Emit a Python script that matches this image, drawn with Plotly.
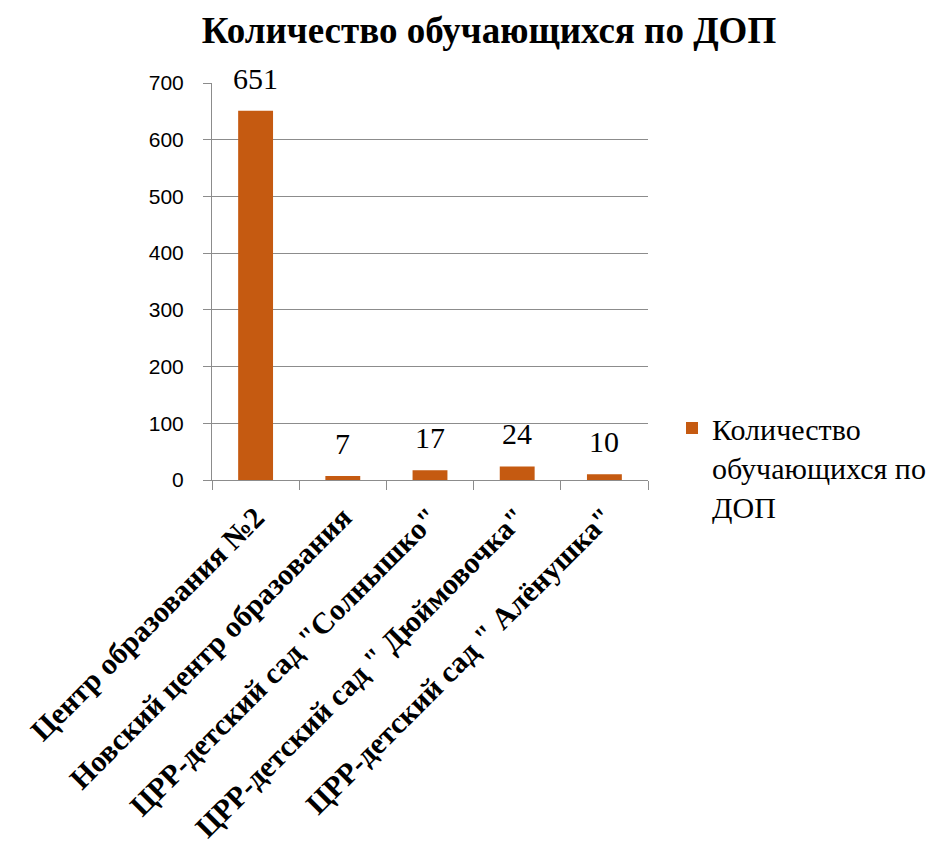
import plotly.graph_objects as go

categories = [
    "Центр образования №2",
    "Новский центр образования",
    "ЦРР-детский сад \"Солнышко\"",
    "ЦРР-детский сад \" Дюймовочка\"",
    "ЦРР-детский сад \" Алёнушка\"",
]
values = [651, 7, 17, 24, 10]
legend_label = "Количество<br>обучающихся по<br>ДОП"
title_text = "Количество обучающихся по ДОП"
y_ticks = [0, 100, 200, 300, 400, 500, 600, 700]

BAR = "#C55A11"
GRID = "#8C8C8C"
SERIF = "Liberation Serif, Times New Roman, serif"
SANS = "Liberation Sans, Arial, sans-serif"

OFF = 8  # page body margin
W, H = 944 - OFF, 854 - OFF
L, T = 212 - OFF, 83 - OFF
R = W - (648 - OFF)
B = H - (480 - OFF)

fig = go.Figure()
fig.add_trace(go.Bar(
    x=categories, y=values, name=legend_label,
    marker=dict(color=BAR, line=dict(width=0)),
    showlegend=True, hoverinfo="x+y",
))

for c, v in zip(categories, values):
    fig.add_annotation(
        x=c, y=v, xref="x", yref="y", text=str(v), showarrow=False,
        yanchor="bottom", yshift=14,
        font=dict(family=SERIF, size=30, color="#000000"),
    )

fig.update_layout(
    width=W, height=H,
    margin=dict(l=L, r=R, t=T, b=B, pad=0, autoexpand=False),
    paper_bgcolor="white", plot_bgcolor="white",
    bargap=0.6,
    title=dict(
        text=f"<b>{title_text}</b>",
        font=dict(family=SERIF, size=37, color="#000000"),
        x=(489 - OFF) / W, xref="container", xanchor="center",
        y=1 - (30 - OFF) / H, yref="container", yanchor="middle",
    ),
    xaxis=dict(
        type="category", categoryorder="array", categoryarray=categories,
        ticks="outside", tickson="boundaries",
        ticklen=9, tickcolor=GRID, tickwidth=1,
        showline=True, linecolor=GRID, linewidth=1,
        showgrid=False, zeroline=False, automargin=False,
        tickangle=-45, ticklabeloverflow="allow",
        tickfont=dict(family=SERIF, size=30, color="#000000", weight="bold"),
        ticklabelstandoff=7,
    ),
    yaxis=dict(
        range=[0, 700], tickvals=y_ticks,
        ticks="outside", ticklen=8, tickcolor=GRID,
        showline=True, linecolor=GRID, linewidth=1,
        showgrid=True, gridcolor=GRID, gridwidth=1,
        zeroline=False, automargin=False,
        tickfont=dict(family=SANS, size=21, color="#000000"),
        ticklabelstandoff=15,
    ),
    legend=dict(
        xref="container", yref="container",
        x=(672 - OFF) / W, y=1 - (402 - OFF) / H, xanchor="left", yanchor="top",
        font=dict(family=SERIF, size=30, color="#000000"),
        valign="top", itemwidth=30, bgcolor="rgba(0,0,0,0)",
    ),
)

fig.write_html("out.html")
